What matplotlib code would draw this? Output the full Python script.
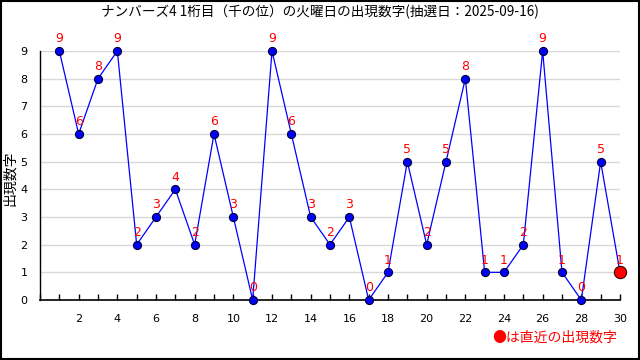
import matplotlib
matplotlib.use("Agg")
import matplotlib.pyplot as plt
from matplotlib.ticker import MultipleLocator
from matplotlib.patches import Rectangle

plt.rcParams['font.family'] = ['Noto Sans CJK JP', 'DejaVu Sans']

#####   Data   #####
title = "ナンバーズ4 1桁目（千の位）の火曜日の出現数字(抽選日：2025-09-16)"
ylabel = "出現数字"
note = "●は直近の出現数字"
draws = list(range(1, 31))
digits = [9, 6, 8, 9, 2, 3, 4, 2, 6, 3, 0, 9, 6, 3, 2, 3, 0, 1, 5, 2,
          5, 8, 1, 1, 2, 9, 1, 0, 5, 1]

fig = plt.figure(figsize=(6.4, 3.6), dpi=100)
ax = fig.add_axes([40 / 640, 1 - 300 / 360, 580 / 640, 249 / 360])

# grid
for v in range(1, 10):
    ax.axhline(v, color="#d8d8d8", lw=1, zorder=0)

ax.plot(draws, digits, color="#0000ff", lw=0.9, zorder=2, clip_on=False)
ax.scatter(draws[:-1], digits[:-1], s=34, color="#0000ff", edgecolors="#000033",
           linewidths=0.8, zorder=3, clip_on=False)
ax.scatter(draws[-1:], digits[-1:], s=78, color="#ff0000", edgecolors="#330000",
           linewidths=0.8, zorder=4, clip_on=False)

for x, y in zip(draws, digits):
    ax.annotate(str(y), (x, y), xytext=(0, 4), textcoords="offset points",
                ha="center", va="bottom", color="#ff0000", fontsize=9,
                family=["DejaVu Sans"], zorder=5)

ax.set_xlim(0, 30)
ax.set_ylim(0, 9)
ax.xaxis.set_major_locator(MultipleLocator(2))
ax.xaxis.set_minor_locator(MultipleLocator(1))
ax.yaxis.set_major_locator(MultipleLocator(1))
ax.tick_params(axis="x", which="both", direction="in", length=4, width=1,
               labelsize=8, pad=10)
ax.tick_params(axis="y", length=0, labelsize=8, pad=9)
for lbl in ax.get_xticklabels() + ax.get_yticklabels():
    lbl.set_family(["DejaVu Sans"])
ax.set_xticks([2, 4, 6, 8, 10, 12, 14, 16, 18, 20, 22, 24, 26, 28, 30])

for s in ["top", "right"]:
    ax.spines[s].set_visible(False)
ax.spines["left"].set_linewidth(1)
ax.spines["bottom"].set_linewidth(1.2)

fig.text(0.5, 1 - 12 / 360, title, ha="center", va="center", fontsize=9.8)
fig.text(10 / 640, 1 - 178 / 360, ylabel, rotation=90, ha="center", va="center",
         fontsize=10)
fig.text(617 / 640, 1 - 338 / 360, note, ha="right", va="center", color="#ff0000",
         fontsize=10)

# outer border
fig.patches.append(Rectangle((0.001, 0.002), 0.997, 0.996, transform=fig.transFigure,
                             fill=False, edgecolor="black", lw=1.5))

fig.savefig("out.png", dpi=100)
